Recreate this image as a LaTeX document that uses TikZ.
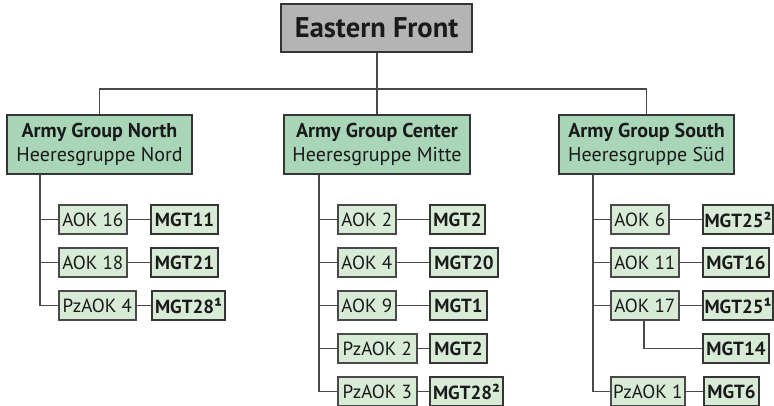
\documentclass[tikz,border=0pt]{standalone}
\usepackage{fontspec}
\setmainfont{PT Sans}
\definecolor{topfill}{HTML}{B4B4B4}
\definecolor{agfill}{HTML}{A9D6B8}
\definecolor{unitfill}{HTML}{D8EBD7}
\definecolor{edge}{HTML}{353535}
\definecolor{wire}{HTML}{4A4A4A}
\definecolor{ink}{HTML}{1A1A1A}
\tikzset{
  box/.style={draw=edge, anchor=west, inner sep=0pt, text=ink},
  topbox/.style={box, fill=topfill, line width=2.2pt, minimum height=48pt,
    font=\fontsize{28.5}{32}\selectfont\bfseries},
  agbox/.style={box, fill=agfill, line width=2pt, minimum height=59pt, align=center,
    font=\fontsize{20}{24.5}\selectfont},
  aok/.style={box, fill=unitfill, draw=wire, line width=1.6pt, minimum height=29pt,
    font=\fontsize{19}{22}\selectfont},
  mgt/.style={box, fill=unitfill, line width=2pt, minimum height=29pt,
    font=\fontsize{19}{22}\selectfont\bfseries},
  link/.style={draw=wire, line width=1.9pt},
}
\begin{document}
\begin{tikzpicture}[x=1pt,y=-1pt]
\useasboundingbox (0,0) rectangle (774,406);

% top of the hierarchy
\node[topbox, minimum width=191pt] (ef) at (280,28) {Eastern Front};

% army groups
\node[agbox, minimum width=185pt] (agn) at (6,144.5) {\textbf{Army Group North}\\Heeresgruppe Nord};
\node[agbox, minimum width=186pt] (agc) at (283,144.5) {\textbf{Army Group Center}\\Heeresgruppe Mitte};
\node[agbox, minimum width=175pt] (ags) at (558,144.5) {\textbf{Army Group South}\\Heeresgruppe Süd};

% Army Group North units
\node[aok, minimum width=68pt] (n1) at (58,219.5) {AOK 16};
\node[aok, minimum width=68pt] (n2) at (58,262.5) {AOK 18};
\node[aok, minimum width=77pt] (n3) at (58,305.5) {PzAOK 4};
\node[mgt, minimum width=67pt] (nm1) at (150,219.5) {MGT11};
\node[mgt, minimum width=67pt] (nm2) at (150,262.5) {MGT21};
\node[mgt, minimum width=73pt] (nm3) at (151,305.5) {MGT28¹};

% Army Group Center units
\node[aok, minimum width=58pt] (c1) at (337,219.5) {AOK 2};
\node[aok, minimum width=58pt] (c2) at (337,262.5) {AOK 4};
\node[aok, minimum width=58pt] (c3) at (337,305.5) {AOK 9};
\node[aok, minimum width=79pt] (c4) at (337,348.5) {PzAOK 2};
\node[aok, minimum width=79pt] (c5) at (337,391.5) {PzAOK 3};
\node[mgt, minimum width=55pt] (cm1) at (429,219.5) {MGT2};
\node[mgt, minimum width=68pt] (cm2) at (429,262.5) {MGT20};
\node[mgt, minimum width=57pt] (cm3) at (429,305.5) {MGT1};
\node[mgt, minimum width=57pt] (cm4) at (429,348.5) {MGT2};
\node[mgt, minimum width=73pt] (cm5) at (429,391.5) {MGT28²};

% Army Group South units
\node[aok, minimum width=58pt] (s1) at (610,219.5) {AOK 6};
\node[aok, minimum width=68pt] (s2) at (610,262.5) {AOK 11};
\node[aok, minimum width=68pt] (s3) at (610,305.5) {AOK 17};
\node[aok, minimum width=74pt] (s5) at (610,391.5) {PzAOK 1};
\node[mgt, minimum width=70pt] (sm1) at (702,219.5) {MGT25²};
\node[mgt, minimum width=66pt] (sm2) at (702,262.5) {MGT16};
\node[mgt, minimum width=70pt] (sm3) at (702,305.5) {MGT25¹};
\node[mgt, minimum width=66pt] (sm4) at (702,348.5) {MGT14};
\node[mgt, minimum width=55pt] (sm5) at (703,391.5) {MGT6};

% routing helpers
\coordinate (bar) at (0,89);
\coordinate (tn) at (40,0);
\coordinate (tc) at (319,0);
\coordinate (ts) at (593,0);
\coordinate (t17) at (644,0);

% top level distribution bar
\draw[link] (ef.south) -- (ef.south |- bar);
\draw[link] (agn.north) |- (bar -| agc.north) -| (ags.north);
\draw[link] (agc.north) -- (agc.north |- bar);

% trunks
\draw[link] (agn.south -| tn) |- (n3.west);
\draw[link] (agc.south -| tc) |- (c5.west);
\draw[link] (ags.south -| ts) |- (s5.west);

% branches to armies
\foreach \u in {n1,n2} \draw[link] (tn |- \u.west) -- (\u.west);
\foreach \u in {c1,c2,c3,c4} \draw[link] (tc |- \u.west) -- (\u.west);
\foreach \u in {s1,s2,s3} \draw[link] (ts |- \u.west) -- (\u.west);

% armies to their groups
\foreach \a/\m in {n1/nm1,n2/nm2,n3/nm3,c1/cm1,c2/cm2,c3/cm3,c4/cm4,c5/cm5,s1/sm1,s2/sm2,s3/sm3,s5/sm5}
  \draw[link] (\a.east) -- (\m.west);
\draw[link] (s3.south -| t17) |- (sm4.west);
\end{tikzpicture}
\end{document}
